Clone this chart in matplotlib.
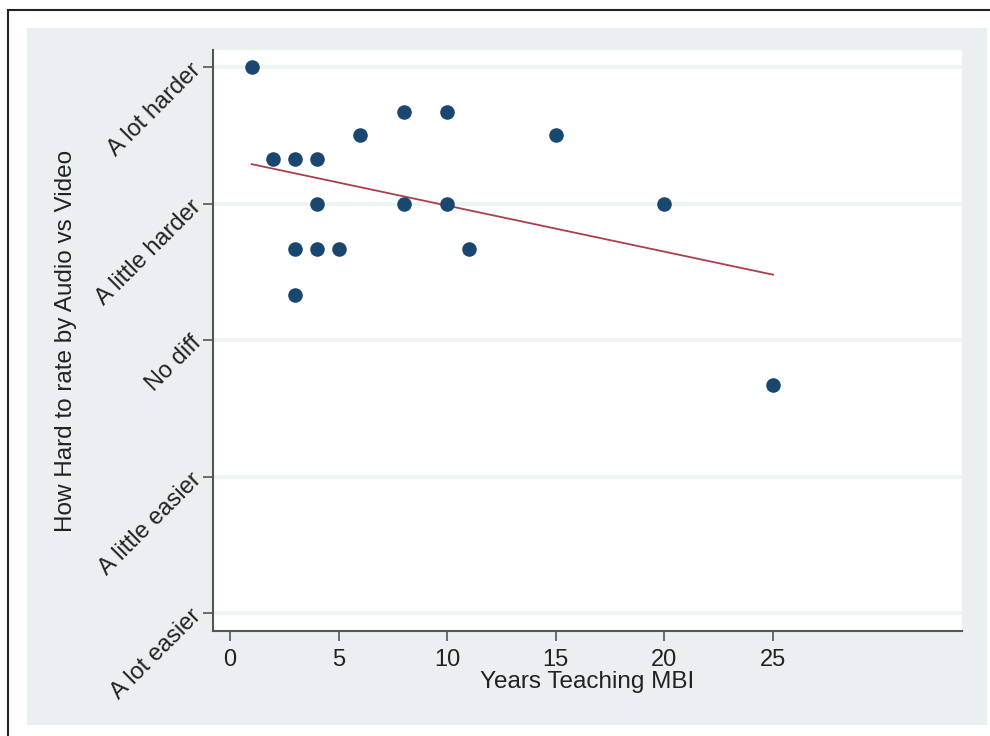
import numpy as np
import matplotlib.pyplot as plt
from matplotlib.patches import Rectangle

plt.rcParams['font.family'] = ['Liberation Sans', 'DejaVu Sans']

# years teaching vs average rating (1 = a lot easier ... 5 = a lot harder)
years = [1, 2, 3, 4, 8, 10, 6, 15, 4, 8, 10, 20, 3, 4, 5, 11, 3, 25]
rating = [5.0, 4.33, 4.33, 4.33, 4.67, 4.67, 4.5, 4.5, 4.0, 4.0, 4.0, 4.0,
          3.67, 3.67, 3.67, 3.67, 3.33, 2.67]

y_ticks = [1, 2, 3, 4, 5]
y_labels = ['A lot easier', 'A little easier', 'No diff', 'A little harder', 'A lot harder']
x_ticks = [0, 5, 10, 15, 20, 25]

W, H = 990, 736
fig = plt.figure(figsize=(W / 100, H / 100), dpi=100, facecolor='white')

# black frame (only top/left inside the image) and bluish-gray graph region
fig.patches.append(Rectangle((8 / W, -0.1), 1, 1.1 - 10 / H, transform=fig.transFigure,
                             facecolor='white', edgecolor='#222222', lw=1.5, zorder=-2))
fig.patches.append(Rectangle((27 / W, 1 - 725 / H), (987 - 27) / W, (725 - 28) / H,
                             transform=fig.transFigure, facecolor='#eaf0f2',
                             edgecolor='none', zorder=-1))

ax = fig.add_axes([213 / W, 1 - 631 / H, (962 - 213) / W, (631 - 50) / H])
ax.set_facecolor('white')

ax.set_xlim(-0.78, 33.7)
ax.set_ylim(0.868, 5.125)

# horizontal grid at each category
ax.set_yticks(y_ticks)
ax.yaxis.grid(True, color='#eef3f4', lw=3)
ax.set_axisbelow(True)

ax.scatter(years, rating, s=110, color='#1a476f', zorder=3, linewidths=0)

# linear fit across the data range
b, a = np.polyfit(years, rating, 1)
xf = np.array([min(years), max(years)])
ax.plot(xf, a + b * xf, color='#a8404e', lw=1.3, zorder=2)

ax.set_yticklabels(y_labels, rotation=45, ha='right', va='center',
                   rotation_mode='anchor', fontsize=17, color='#222222')
ax.set_xticks(x_ticks)
ax.set_xticklabels([str(t) for t in x_ticks], fontsize=17, color='#222222')

for s in ['top', 'right']:
    ax.spines[s].set_visible(False)
for s in ['left', 'bottom']:
    ax.spines[s].set_color('#555555')
    ax.spines[s].set_linewidth(1.5)
ax.tick_params(axis='both', length=7, width=1.2, color='#555555')
ax.tick_params(axis='y', pad=4)
ax.tick_params(axis='x', pad=6)

ax.set_xlabel('Years Teaching MBI', fontsize=17.5, color='#222222', labelpad=0)
ax.set_ylabel('How Hard to rate by Audio vs Video', fontsize=17.5, color='#222222')
ax.yaxis.set_label_coords((77 - 213) / (962 - 213), 0.5)

fig.savefig('out.png', dpi=100, facecolor=fig.get_facecolor())
